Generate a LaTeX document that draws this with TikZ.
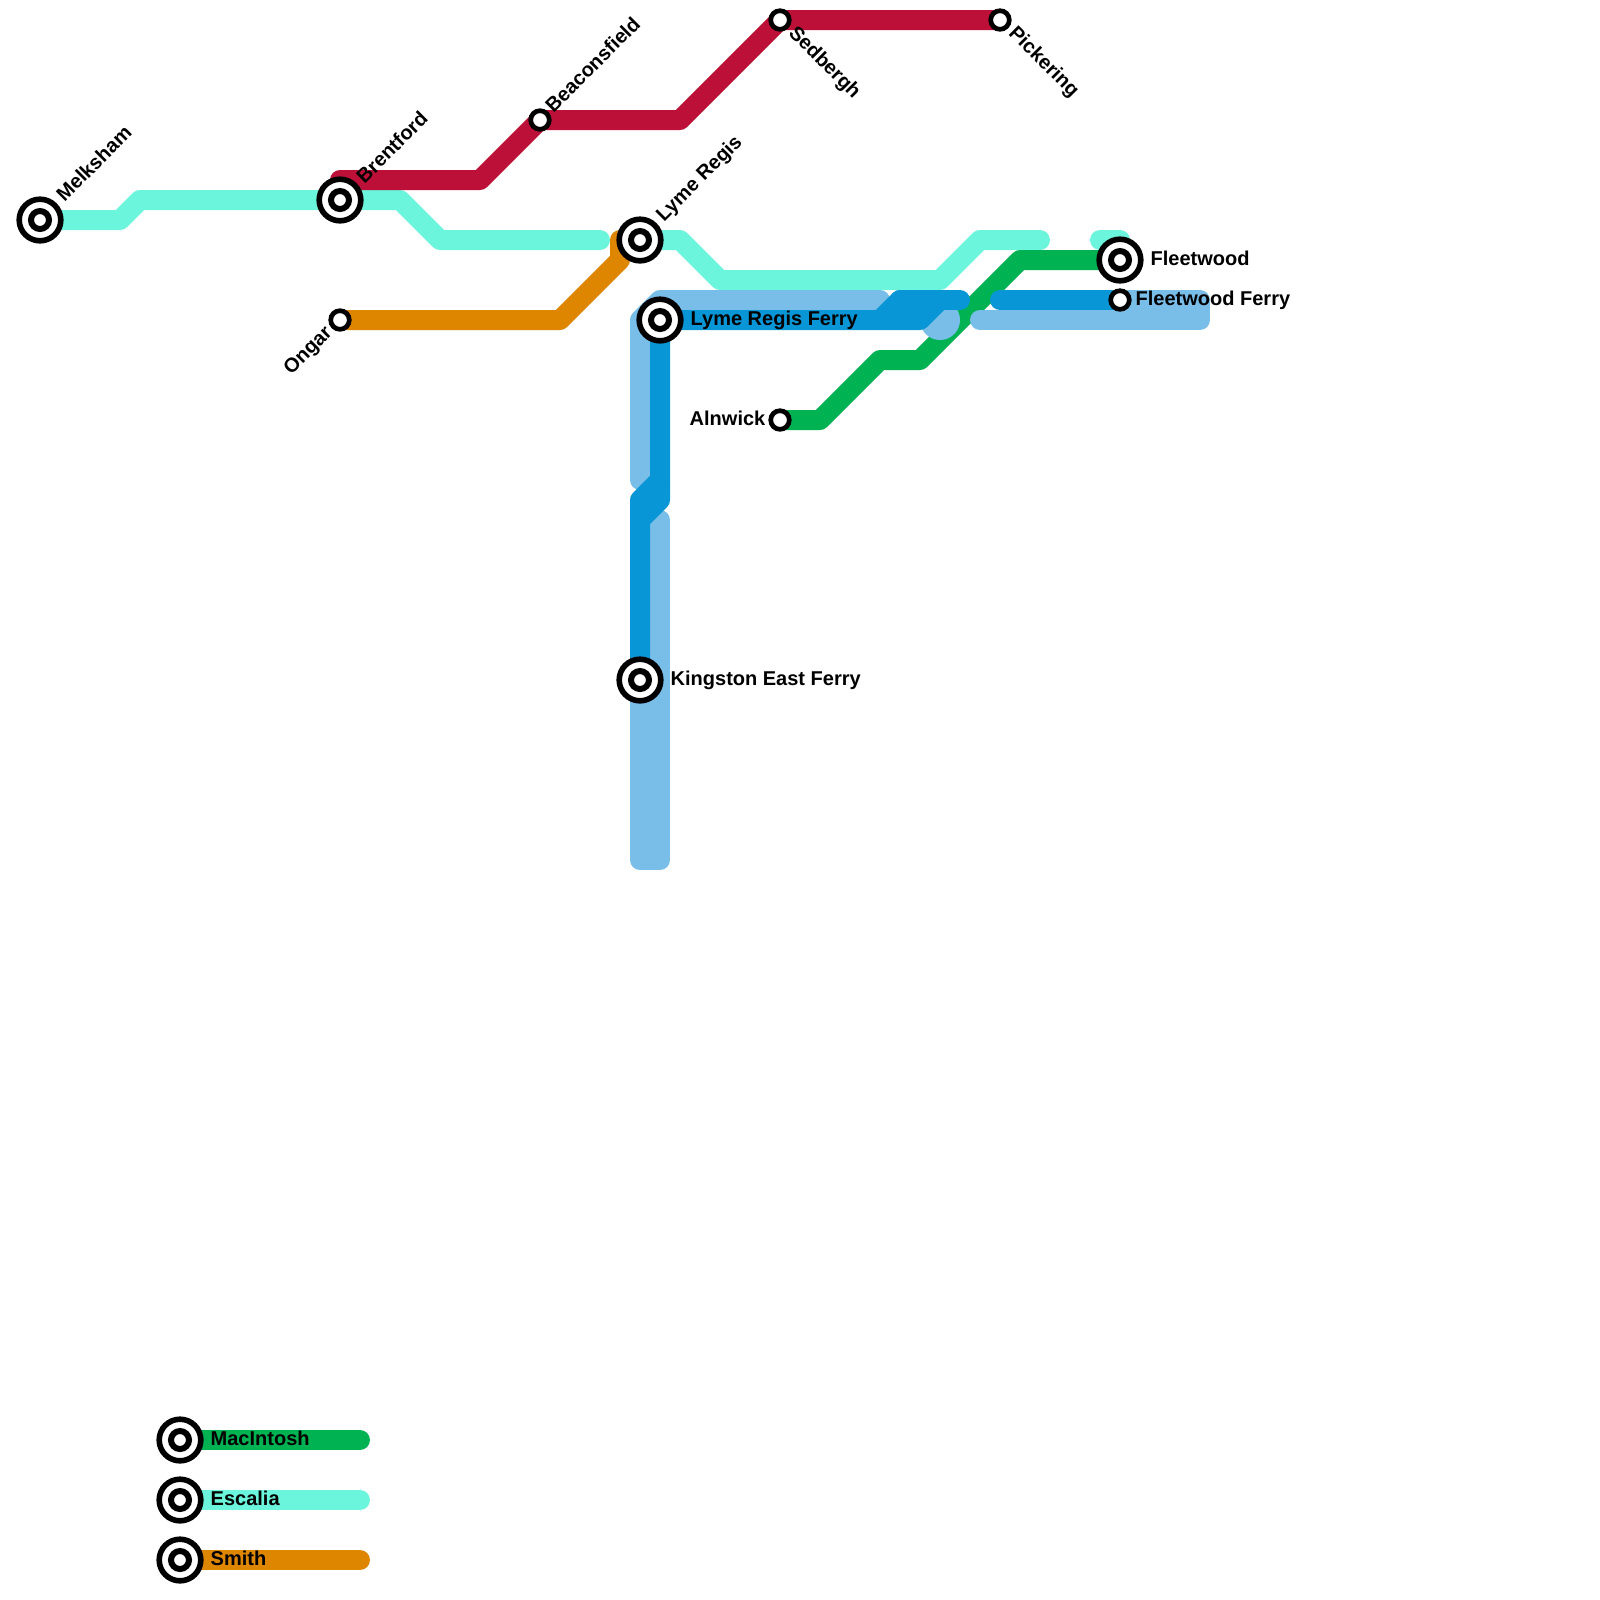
\documentclass[tikz,border=0pt]{standalone}
\usepackage{fontspec}
\setmainfont{Liberation Sans}
\definecolor{macintosh}{HTML}{00B251}
\definecolor{escalia}{HTML}{6AF5DC}
\definecolor{smith}{HTML}{DF8600}
\definecolor{crimson}{HTML}{BD1038}
\definecolor{ferry}{HTML}{0896D7}
\definecolor{ferrylight}{HTML}{79BDE9}
\begin{document}
\begin{tikzpicture}[x=0.2cm, y=-0.2cm,
    route/.style={line width=0.2cm, line cap=round, line join=round},
    interchange/.style={circle, draw=black, fill=white, line width=0.056cm, minimum size=0.416cm, inner sep=0pt,
        path picture={\draw[line width=0.06cm] (path picture bounding box.center) circle (0.09cm);}},
    halt/.style={circle, draw=black, fill=white, line width=0.047cm, minimum size=0.186cm, inner sep=0pt},
    stoplabel/.style={font=\fontsize{5.69}{7}\bfseries\selectfont, inner sep=0pt, text=black}]
    \useasboundingbox (0,0) rectangle (80,80);

    % Stops
    \coordinate (melksham) at (2,11);
    \coordinate (brentford) at (17,10);
    \coordinate (beaconsfield) at (27,6);
    \coordinate (sedbergh) at (39,1);
    \coordinate (pickering) at (50,1);
    \coordinate (lymeregis) at (32,12);
    \coordinate (ongar) at (17,16);
    \coordinate (lymeferry) at (33,16);
    \coordinate (alnwick) at (39,21);
    \coordinate (kingston) at (32,34);
    \coordinate (fleetwood) at (56,13);
    \coordinate (fleetferry) at (56,15);
    \coordinate (keymacintosh) at (9,72);
    \coordinate (keyescalia) at (9,75);
    \coordinate (keysmith) at (9,78);

    % Escalia
    \draw[route, escalia] (melksham) -- (6,11) -- (7,10) -- (brentford) -- (20,10) -- (22,12) -- (30,12);
    \draw[route, escalia] (lymeregis) -- (34,12) -- (36,14) -- (47,14) -- (49,12) -- (52,12);
    \draw[route, escalia] (55,12) -- (56,12) -- (fleetwood);

    % Crimson
    \draw[route, crimson] (brentford) -- (17,9) -- (24,9) -- (beaconsfield) -- (34,6) -- (sedbergh) -- (pickering);

    % Smith
    \draw[route, smith] (ongar) -- (28,16) -- (31,13) -- (31,12) -- (lymeregis);

    % MacIntosh
    \draw[route, macintosh] (alnwick) -- (41,21) -- (44,18) -- (46,18) -- (51,13) -- (fleetwood);

    % Light ferry
    \draw[route, ferrylight] (32,24) -- (32,16) -- (33,15) -- (44,15);
    \draw[route, ferrylight] (kingston) -- (32,43) -- (33,43) -- (33,26);
    \draw[route, ferrylight] (fleetferry) -- (60,15) -- (60,16) -- (49,16);
    \fill[ferrylight] (47,16) circle (0.2cm);

    % Dark ferry
    \draw[route, ferry] (lymeferry) -- (46,16) -- (47,15) -- (45,15) -- (44,16);
    \draw[route, ferry] (45,15) -- (48,15);
    \draw[route, ferry] (50,15) -- (fleetferry);
    \draw[route, ferry] (lymeferry) -- (33,25) -- (32,26) -- (kingston);
    \draw[route, ferry] (33,24) -- (32,25) -- (32,26);

    % Key
    \draw[route, macintosh] (keymacintosh) -- (18,72);
    \draw[route, escalia] (keyescalia) -- (18,75);
    \draw[route, smith] (keysmith) -- (18,78);

    % Stop markers
    \node[interchange] (melkshamstop) at (melksham) {};
    \node[interchange] (brentfordstop) at (brentford) {};
    \node[interchange] (lymeregisstop) at (lymeregis) {};
    \node[interchange] (lymeferrystop) at (lymeferry) {};
    \node[interchange] (kingstonstop) at (kingston) {};
    \node[interchange] (fleetwoodstop) at (fleetwood) {};
    \node[interchange] (keymacintoshstop) at (keymacintosh) {};
    \node[interchange] (keyescaliastop) at (keyescalia) {};
    \node[interchange] (keysmithstop) at (keysmith) {};
    \node[halt] (beaconsfieldstop) at (beaconsfield) {};
    \node[halt] (sedberghstop) at (sedbergh) {};
    \node[halt] (pickeringstop) at (pickering) {};
    \node[halt] (ongarstop) at (ongar) {};
    \node[halt] (alnwickstop) at (alnwick) {};
    \node[halt] (fleetferrystop) at (fleetferry) {};

    % Labels
    \node[stoplabel, rotate=45, anchor=west] (melkshamname) at (2.95,9.9) {Melksham};
    \node[stoplabel, rotate=45, anchor=west] (brentfordname) at (17.95,9) {Brentford};
    \node[stoplabel, rotate=45, anchor=west] (beaconsfieldname) at (27.4,5.45) {Beaconsfield};
    \node[stoplabel, rotate=45, anchor=west] (lymeregisname) at (33,10.95) {Lyme Regis};
    \node[stoplabel, rotate=-45, anchor=west] (sedberghname) at (39.55,1.5) {Sedbergh};
    \node[stoplabel, rotate=-45, anchor=west] (pickeringname) at (50.55,1.5) {Pickering};
    \node[stoplabel, rotate=45, anchor=east] (ongarname) at (16.5,16.5) {Ongar};
    \node[stoplabel, anchor=west] (lymeferryname) at (34.5,16) {Lyme Regis Ferry};
    \node[stoplabel, anchor=east] (alnwickname) at (38.3,20.9) {Alnwick};
    \node[stoplabel, anchor=west] (kingstonname) at (33.5,34) {Kingston East Ferry};
    \node[stoplabel, anchor=west] (fleetwoodname) at (57.5,12.9) {Fleetwood};
    \node[stoplabel, anchor=west] (fleetferryname) at (56.75,15) {Fleetwood Ferry};
    \node[stoplabel, anchor=west] (keymacintoshname) at (10.5,71.9) {MacIntosh};
    \node[stoplabel, anchor=west] (keyescalianame) at (10.5,74.9) {Escalia};
    \node[stoplabel, anchor=west] (keysmithname) at (10.5,77.9) {Smith};
\end{tikzpicture}
\end{document}
